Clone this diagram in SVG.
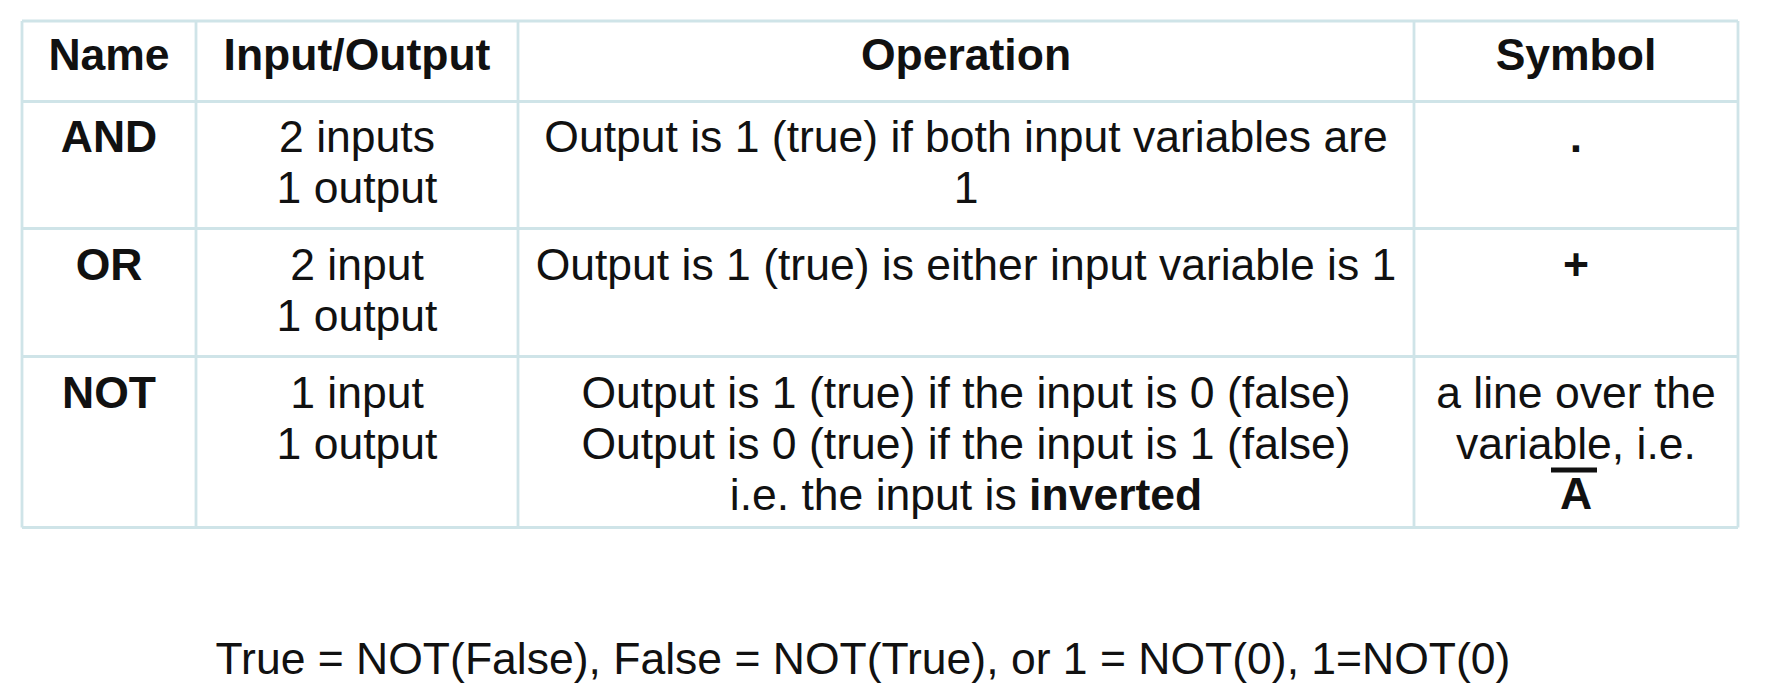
<svg xmlns="http://www.w3.org/2000/svg" width="1768" height="688" viewBox="0 0 1768 688">
<style>
.t{font-family:"Liberation Sans",Arial,sans-serif;font-size:44.5px;fill:#111;text-anchor:middle}
.b{font-weight:bold}
.grid line{stroke:#cfe4e8;stroke-width:2.8}
</style>
<rect width="1768" height="688" fill="#fff"/>
<g id="grid" class="grid">
<line x1="22" y1="21" x2="1738" y2="21"/>
<line x1="22" y1="101.5" x2="1738" y2="101.5"/>
<line x1="22" y1="228.5" x2="1738" y2="228.5"/>
<line x1="22" y1="356.5" x2="1738" y2="356.5"/>
<line x1="22" y1="527.5" x2="1738" y2="527.5"/>
<line x1="22" y1="21" x2="22" y2="527.5"/>
<line x1="196" y1="21" x2="196" y2="527.5"/>
<line x1="518" y1="21" x2="518" y2="527.5"/>
<line x1="1414" y1="21" x2="1414" y2="527.5"/>
<line x1="1738" y1="21" x2="1738" y2="527.5"/>
</g>
<g id="header">
<text class="t b" x="109" y="70">Name</text>
<text class="t b" x="357" y="70">Input/Output</text>
<text class="t b" x="966" y="70">Operation</text>
<text class="t b" x="1576" y="70">Symbol</text>
</g>
<g id="row-and">
<text class="t b" x="109" y="152">AND</text>
<text class="t" x="357" y="152">2 inputs</text>
<text class="t" x="357" y="203">1 output</text>
<text class="t" x="966" y="152">Output is 1 (true) if both input variables are</text>
<text class="t" x="966" y="203">1</text>
<text class="t b" x="1576" y="152">.</text>
</g>
<g id="row-or">
<text class="t b" x="109" y="280">OR</text>
<text class="t" x="357" y="280">2 input</text>
<text class="t" x="357" y="331">1 output</text>
<text class="t" x="966" y="280">Output is 1 (true) is either input variable is 1</text>
<text class="t b" x="1576" y="280">+</text>
</g>
<g id="row-not">
<text class="t b" x="109" y="408">NOT</text>
<text class="t" x="357" y="408">1 input</text>
<text class="t" x="357" y="459">1 output</text>
<text class="t" x="966" y="408">Output is 1 (true) if the input is 0 (false)</text>
<text class="t" x="966" y="459">Output is 0 (true) if the input is 1 (false)</text>
<text class="t" x="966" y="510">i.e. the input is <tspan class="b">inverted</tspan></text>
<text class="t" x="1576" y="408">a line over the</text>
<text class="t" x="1576" y="459">variable, i.e.</text>
<rect x="1551" y="467.5" width="46" height="5" fill="#111"/>
<text class="t b" x="1576" y="509">A</text>
</g>
<g id="note">
<text class="t" x="863" y="674">True = NOT(False), False = NOT(True), or 1 = NOT(0), 1=NOT(0)</text>
</g>
</svg>
